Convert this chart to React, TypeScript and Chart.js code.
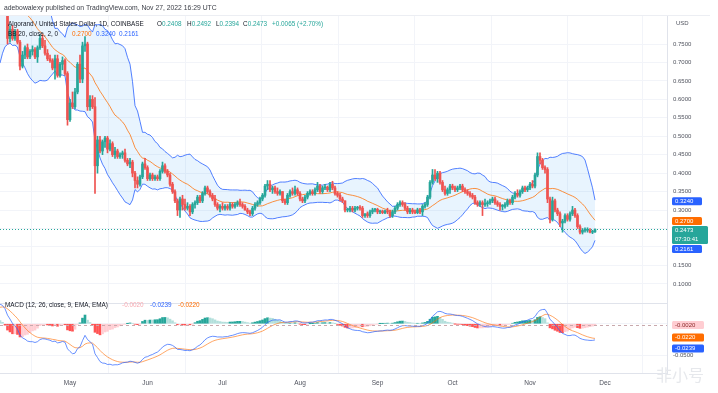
import React, { useEffect, useRef } from "react";
import { Chart, registerables } from "chart.js";
Chart.register(...registerables);

const FONT = '"Liberation Sans", Arial, sans-serif';

// day index 0 = 1 May 2022; first visible candle = 3 Apr 2022
const firstDay = -28;
const xMin = -28;
const xMax = 238.8;

// closes 20 Feb .. 2 Apr 2022 (off-screen, only used for indicator warm-up)
const warmupCloses = [
  0.85, 0.8, 0.82, 0.8, 0.78, 0.82, 0.84, 0.8, 0.86,
  0.88, 0.86, 0.84, 0.78, 0.79, 0.76, 0.73, 0.74, 0.78, 0.74,
  0.72, 0.72, 0.7, 0.7, 0.69, 0.73, 0.74, 0.77, 0.8, 0.78,
  0.78, 0.82, 0.84, 0.87, 0.86, 0.87, 0.9, 0.93, 0.95, 0.92, 0.87,
  0.88, 0.89,
];

const opens = [
  // Apr 3..30
  0.89, 0.9, 0.88, 0.84, 0.765, 0.79, 0.765, 0.785, 0.755, 0.69, 0.72, 0.74, 0.715, 0.73, 0.735, 0.715, 0.74, 0.765, 0.745, 0.725, 0.71, 0.705, 0.685, 0.71, 0.665, 0.695, 0.705, 0.67,
  // May
  0.545, 0.59, 0.58, 0.62, 0.695, 0.655, 0.745, 0.75, 0.58, 0.6, 0.58, 0.42, 0.49, 0.46, 0.485, 0.495, 0.465, 0.48, 0.45, 0.46, 0.445, 0.45, 0.455, 0.435, 0.425, 0.43, 0.4, 0.38, 0.37, 0.39, 0.425,
  // Jun
  0.415, 0.385, 0.395, 0.385, 0.39, 0.385, 0.405, 0.42, 0.405, 0.395, 0.37, 0.35, 0.325, 0.3, 0.33, 0.315, 0.305, 0.31, 0.295, 0.315, 0.32, 0.335, 0.325, 0.345, 0.36, 0.35, 0.34, 0.33, 0.315, 0.305,
  // Jul
  0.31, 0.305, 0.31, 0.305, 0.315, 0.31, 0.315, 0.32, 0.315, 0.31, 0.3, 0.295, 0.29, 0.305, 0.315, 0.32, 0.33, 0.34, 0.365, 0.37, 0.355, 0.36, 0.35, 0.345, 0.35, 0.325, 0.32, 0.34, 0.35, 0.345, 0.355,
  // Aug
  0.345, 0.33, 0.325, 0.335, 0.345, 0.35, 0.345, 0.355, 0.365, 0.35, 0.36, 0.362, 0.355, 0.37, 0.36, 0.345, 0.34, 0.33, 0.325, 0.3, 0.3, 0.305, 0.3, 0.305, 0.307, 0.305, 0.285, 0.29, 0.285, 0.295, 0.3,
  // Sep
  0.302, 0.295, 0.297, 0.293, 0.298, 0.295, 0.285, 0.295, 0.305, 0.315, 0.32, 0.315, 0.305, 0.295, 0.3, 0.295, 0.293, 0.3, 0.295, 0.31, 0.315, 0.335, 0.375, 0.395, 0.385, 0.4, 0.375, 0.355, 0.345, 0.355,
  // Oct
  0.365, 0.36, 0.355, 0.36, 0.365, 0.355, 0.35, 0.345, 0.34, 0.335, 0.32, 0.315, 0.32, 0.315, 0.317, 0.32, 0.325, 0.33, 0.32, 0.315, 0.31, 0.31, 0.315, 0.325, 0.32, 0.335, 0.345, 0.34, 0.35, 0.36, 0.355,
  // Nov 1..27
  0.36, 0.37, 0.365, 0.395, 0.445, 0.435, 0.415, 0.41, 0.33, 0.275, 0.325, 0.3, 0.29, 0.265, 0.27, 0.285, 0.275, 0.29, 0.3, 0.285, 0.255, 0.24, 0.245, 0.245, 0.245, 0.24, 0.2408,
];

const highs = [
  0.91, 0.92, 0.9, 0.845, 0.8, 0.8, 0.79, 0.79, 0.76, 0.73, 0.745, 0.75, 0.735, 0.745, 0.74, 0.745, 0.775, 0.775, 0.76, 0.735, 0.72, 0.71, 0.72, 0.72, 0.7, 0.715, 0.71, 0.675,
  0.6, 0.62, 0.63, 0.7, 0.72, 0.755, 0.77, 0.755, 0.61, 0.61, 0.605, 0.5, 0.5, 0.49, 0.5, 0.5, 0.49, 0.485, 0.47, 0.465, 0.455, 0.46, 0.465, 0.44, 0.44, 0.435, 0.405, 0.39, 0.395, 0.43, 0.44,
  0.42, 0.4, 0.4, 0.395, 0.395, 0.41, 0.43, 0.425, 0.41, 0.4, 0.375, 0.355, 0.33, 0.335, 0.34, 0.33, 0.32, 0.315, 0.32, 0.325, 0.34, 0.34, 0.35, 0.365, 0.365, 0.355, 0.345, 0.34, 0.32, 0.315,
  0.32, 0.315, 0.315, 0.32, 0.32, 0.32, 0.325, 0.33, 0.32, 0.315, 0.305, 0.3, 0.31, 0.32, 0.325, 0.335, 0.345, 0.37, 0.38, 0.38, 0.365, 0.365, 0.36, 0.355, 0.35, 0.33, 0.345, 0.355, 0.36, 0.365, 0.36,
  0.35, 0.335, 0.34, 0.35, 0.355, 0.355, 0.36, 0.375, 0.37, 0.365, 0.37, 0.365, 0.375, 0.378, 0.365, 0.35, 0.345, 0.335, 0.325, 0.305, 0.31, 0.31, 0.31, 0.31, 0.312, 0.31, 0.29, 0.295, 0.3, 0.305, 0.305,
  0.305, 0.3, 0.3, 0.3, 0.305, 0.3, 0.3, 0.31, 0.32, 0.325, 0.325, 0.32, 0.31, 0.305, 0.305, 0.3, 0.305, 0.305, 0.315, 0.32, 0.34, 0.38, 0.41, 0.41, 0.405, 0.405, 0.38, 0.365, 0.36, 0.37,
  0.37, 0.365, 0.365, 0.37, 0.37, 0.36, 0.355, 0.35, 0.345, 0.34, 0.325, 0.325, 0.325, 0.33, 0.325, 0.33, 0.335, 0.335, 0.325, 0.32, 0.315, 0.32, 0.33, 0.33, 0.34, 0.35, 0.355, 0.355, 0.365, 0.365, 0.365,
  0.375, 0.38, 0.4, 0.455, 0.455, 0.44, 0.42, 0.415, 0.335, 0.335, 0.33, 0.305, 0.295, 0.275, 0.29, 0.29, 0.295, 0.31, 0.305, 0.29, 0.26, 0.25, 0.252, 0.252, 0.25, 0.245, 0.2492,
];

const lows = [
  0.87, 0.85, 0.83, 0.75, 0.755, 0.76, 0.76, 0.75, 0.68, 0.685, 0.71, 0.71, 0.71, 0.72, 0.71, 0.7, 0.735, 0.74, 0.72, 0.705, 0.7, 0.68, 0.655, 0.66, 0.66, 0.68, 0.665, 0.53,
  0.54, 0.575, 0.575, 0.615, 0.645, 0.645, 0.73, 0.57, 0.57, 0.575, 0.345, 0.4, 0.455, 0.45, 0.47, 0.455, 0.46, 0.445, 0.44, 0.44, 0.44, 0.44, 0.43, 0.42, 0.415, 0.39, 0.36, 0.36, 0.365, 0.385, 0.41,
  0.38, 0.38, 0.38, 0.38, 0.38, 0.38, 0.4, 0.4, 0.39, 0.365, 0.345, 0.32, 0.285, 0.28, 0.3, 0.3, 0.3, 0.285, 0.29, 0.305, 0.315, 0.32, 0.32, 0.34, 0.345, 0.335, 0.325, 0.31, 0.3, 0.295,
  0.3, 0.3, 0.3, 0.3, 0.305, 0.305, 0.31, 0.31, 0.305, 0.3, 0.29, 0.285, 0.285, 0.3, 0.31, 0.315, 0.325, 0.335, 0.355, 0.35, 0.345, 0.345, 0.34, 0.34, 0.32, 0.315, 0.315, 0.335, 0.34, 0.34, 0.34,
  0.325, 0.32, 0.32, 0.33, 0.34, 0.34, 0.34, 0.35, 0.345, 0.345, 0.355, 0.35, 0.35, 0.355, 0.34, 0.335, 0.325, 0.32, 0.295, 0.295, 0.295, 0.295, 0.295, 0.3, 0.3, 0.28, 0.28, 0.28, 0.28, 0.29, 0.295,
  0.29, 0.29, 0.29, 0.29, 0.29, 0.28, 0.28, 0.29, 0.3, 0.31, 0.31, 0.3, 0.29, 0.29, 0.29, 0.29, 0.29, 0.29, 0.285, 0.305, 0.31, 0.33, 0.37, 0.38, 0.375, 0.37, 0.35, 0.34, 0.34, 0.345,
  0.355, 0.35, 0.35, 0.355, 0.35, 0.345, 0.34, 0.335, 0.33, 0.315, 0.31, 0.31, 0.285, 0.31, 0.31, 0.315, 0.32, 0.315, 0.31, 0.3, 0.3, 0.305, 0.31, 0.315, 0.315, 0.33, 0.335, 0.335, 0.345, 0.35, 0.35,
  0.355, 0.36, 0.36, 0.39, 0.425, 0.41, 0.4, 0.32, 0.265, 0.27, 0.295, 0.285, 0.255, 0.24, 0.265, 0.27, 0.27, 0.285, 0.28, 0.25, 0.235, 0.235, 0.24, 0.24, 0.238, 0.236, 0.2394,
];

const closes = [
  0.9, 0.88, 0.84, 0.765, 0.79, 0.765, 0.785, 0.755, 0.69, 0.72, 0.74, 0.715, 0.73, 0.735, 0.715, 0.74, 0.765, 0.745, 0.725, 0.71, 0.705, 0.685, 0.71, 0.665, 0.695, 0.705, 0.67, 0.545,
  0.59, 0.58, 0.62, 0.695, 0.655, 0.745, 0.75, 0.58, 0.6, 0.58, 0.42, 0.49, 0.46, 0.485, 0.495, 0.465, 0.48, 0.45, 0.46, 0.445, 0.45, 0.455, 0.435, 0.425, 0.43, 0.4, 0.38, 0.37, 0.39, 0.425, 0.415,
  0.385, 0.395, 0.385, 0.39, 0.385, 0.405, 0.42, 0.405, 0.395, 0.37, 0.35, 0.325, 0.3, 0.33, 0.315, 0.305, 0.31, 0.295, 0.315, 0.32, 0.335, 0.325, 0.345, 0.36, 0.35, 0.34, 0.33, 0.315, 0.305, 0.31,
  0.305, 0.31, 0.305, 0.315, 0.31, 0.315, 0.32, 0.315, 0.31, 0.3, 0.295, 0.29, 0.305, 0.315, 0.32, 0.33, 0.34, 0.365, 0.37, 0.355, 0.36, 0.35, 0.345, 0.35, 0.325, 0.32, 0.34, 0.35, 0.345, 0.355, 0.345,
  0.33, 0.325, 0.335, 0.345, 0.35, 0.345, 0.355, 0.365, 0.35, 0.36, 0.362, 0.355, 0.37, 0.36, 0.345, 0.34, 0.33, 0.325, 0.3, 0.3, 0.305, 0.3, 0.305, 0.307, 0.305, 0.285, 0.29, 0.285, 0.295, 0.3, 0.302,
  0.295, 0.297, 0.293, 0.298, 0.295, 0.285, 0.295, 0.305, 0.315, 0.32, 0.315, 0.305, 0.295, 0.3, 0.295, 0.293, 0.3, 0.295, 0.31, 0.315, 0.335, 0.375, 0.395, 0.385, 0.4, 0.375, 0.355, 0.345, 0.355, 0.365,
  0.36, 0.355, 0.36, 0.365, 0.355, 0.35, 0.345, 0.34, 0.335, 0.32, 0.315, 0.32, 0.315, 0.317, 0.32, 0.325, 0.33, 0.32, 0.315, 0.31, 0.31, 0.315, 0.325, 0.32, 0.335, 0.345, 0.34, 0.35, 0.36, 0.355, 0.36,
  0.37, 0.365, 0.395, 0.445, 0.435, 0.415, 0.41, 0.33, 0.275, 0.325, 0.3, 0.29, 0.265, 0.27, 0.285, 0.275, 0.29, 0.3, 0.285, 0.255, 0.24, 0.245, 0.245, 0.245, 0.24, 0.2408, 0.2473,
];

const monthTickDays = [0, 31, 61, 92, 123, 153, 184, 214];
const monthTickLabels = ["May", "Jun", "Jul", "Aug", "Sep", "Oct", "Nov", "Dec"];
const priceTicks = [0.1, 0.15, 0.2, 0.25, 0.3, 0.35, 0.4, 0.45, 0.5, 0.55, 0.6, 0.65, 0.7, 0.75];
const macdTicks = [0, -0.05];

const lastClose = 0.2473;
const bbBasisLast = 0.27;
const bbUpperLast = 0.324;
const bbLowerLast = 0.2161;
const histLast = -0.002;
const macdLast = -0.0239;
const signalLast = -0.022;

const UP = "#26a69a";
const DOWN = "#ef5350";
const BLUE = "#2962ff";
const ORANGE = "#ff6d00";
const GRID = "#f2f4f9";
const AXIS_TEXT = "#50535e";

function ema(src: number[], n: number): number[] {
  const k = 2 / (n + 1);
  const out: number[] = [];
  let e = src[0];
  src.forEach((v, i) => {
    e = i === 0 ? v : v * k + e * (1 - k);
    out.push(e);
  });
  return out;
}

function drawBox(ctx: CanvasRenderingContext2D, x: number, top: number, w: number, h: number, fill: string, color: string, lines: string[]) {
  ctx.save();
  ctx.fillStyle = fill;
  ctx.beginPath();
  (ctx as any).roundRect ? (ctx as any).roundRect(x, top, w, h, 1.5) : ctx.rect(x, top, w, h);
  ctx.fill();
  ctx.fillStyle = color;
  ctx.font = `6px ${FONT}`;
  ctx.textBaseline = "middle";
  ctx.textAlign = "left";
  lines.forEach((t, i) => ctx.fillText(t, x + 3, top + 4 + i * 9));
  ctx.restore();
}

const noPad = (s: any) => {
  s.paddingTop = 0;
  s.paddingBottom = 0;
  s.paddingLeft = 0;
  s.paddingRight = 0;
};

export default function App() {
  const mainRef = useRef<HTMLCanvasElement>(null);
  const macdRef = useRef<HTMLCanvasElement>(null);

  useEffect(() => {
    const days = closes.map((_, i) => firstDay + i);
    const W = warmupCloses.length;
    const allCloses = [...warmupCloses, ...closes];

    const upper: { x: number; y: number }[] = [];
    const lower: { x: number; y: number }[] = [];
    const basis: { x: number; y: number }[] = [];
    closes.forEach((_, i) => {
      const j = W + i;
      const win = allCloses.slice(j - 19, j + 1);
      const m = win.reduce((a, b) => a + b, 0) / win.length;
      const sd = Math.sqrt(win.reduce((a, b) => a + (b - m) * (b - m), 0) / win.length);
      basis.push({ x: days[i], y: m });
      upper.push({ x: days[i], y: m + 2 * sd });
      lower.push({ x: days[i], y: m - 2 * sd });
    });

    const e12 = ema(allCloses, 12);
    const e26 = ema(allCloses, 26);
    const macdAll = e12.map((v, i) => v - e26[i]);
    const sigAll = ema(macdAll, 9);
    const histAll = macdAll.map((v, i) => v - sigAll[i]);
    const histColors: string[] = [];
    const histData = closes.map((_, i) => {
      const h = histAll[W + i];
      const p = histAll[W + i - 1];
      histColors.push(h >= 0 ? (h > p ? "#26a69a" : "#b2dfdb") : h < p ? "#ff5252" : "#ffcdd2");
      return { x: days[i], y: h };
    });
    const macdData = closes.map((_, i) => ({ x: days[i], y: macdAll[W + i] }));
    const sigData = closes.map((_, i) => ({ x: days[i], y: sigAll[W + i] }));

    const candleColors = closes.map((c, i) => (c >= opens[i] ? UP : DOWN));

    const mainOverlay = {
      id: "mainOverlay",
      afterDatasetsDraw(chart: any) {
        const { ctx, chartArea: a, scales } = chart;
        const py = Math.round(scales.y.getPixelForValue(lastClose)) + 0.5;
        ctx.save();
        ctx.strokeStyle = UP;
        ctx.lineWidth = 1;
        ctx.setLineDash([1, 2]);
        ctx.beginPath();
        ctx.moveTo(a.left, py);
        ctx.lineTo(a.right, py);
        ctx.stroke();
        ctx.restore();
      },
      afterDraw(chart: any) {
        const { ctx, chartArea: a, scales } = chart;
        const y = scales.y;
        const bx = a.right + 5;
        ctx.save();
        ctx.fillStyle = AXIS_TEXT;
        ctx.font = `6px ${FONT}`;
        ctx.textBaseline = "middle";
        ctx.fillText("USD", a.right + 9, 8);
        ctx.restore();
        // labels stack downward when they would overlap
        const orTop = y.getPixelForValue(bbBasisLast) - 4;
        const tealTop = Math.max(y.getPixelForValue(lastClose) - 4, orTop + 9);
        const lowTop = Math.max(y.getPixelForValue(bbLowerLast) - 4, tealTop + 19);
        drawBox(ctx, bx, y.getPixelForValue(bbUpperLast) - 4, 30, 8, BLUE, "#fff", [bbUpperLast.toFixed(4)]);
        drawBox(ctx, bx, orTop, 30, 8, ORANGE, "#fff", [bbBasisLast.toFixed(4)]);
        drawBox(ctx, bx, tealTop, 36, 18, UP, "#fff", [lastClose.toFixed(4), "07:30:41"]);
        drawBox(ctx, bx, lowTop, 30, 8, BLUE, "#fff", [bbLowerLast.toFixed(4)]);
      },
    };

    const macdOverlay = {
      id: "macdOverlay",
      afterDatasetsDraw(chart: any) {
        const { ctx, chartArea: a, scales } = chart;
        const py = Math.round(scales.y.getPixelForValue(histLast)) + 0.5;
        ctx.save();
        ctx.strokeStyle = "#c8a9ad";
        ctx.lineWidth = 1;
        ctx.setLineDash([3, 3]);
        ctx.beginPath();
        ctx.moveTo(a.left, py);
        ctx.lineTo(a.right, py);
        ctx.stroke();
        ctx.restore();
      },
      afterDraw(chart: any) {
        const { ctx, chartArea: a, scales } = chart;
        const y = scales.y;
        const bx = a.right + 5;
        const pPink = y.getPixelForValue(histLast);
        const pOr = y.getPixelForValue(signalLast);
        drawBox(ctx, bx, pPink - 4, 32, 8, "#ffcdd2", "#8b2a2a", [histLast.toFixed(4)]);
        drawBox(ctx, bx, pOr - 4, 32, 8, ORANGE, "#fff", [signalLast.toFixed(4)]);
        drawBox(ctx, bx, pOr + 7, 32, 8, BLUE, "#fff", [macdLast.toFixed(4)]);
      },
    };

    const xCommon = {
      type: "linear" as const,
      min: xMin,
      max: xMax,
      offset: false,
      afterBuildTicks: (s: any) => {
        s.ticks = monthTickDays.map((v) => ({ value: v }));
      },
      grid: { color: GRID, drawTicks: false, lineWidth: 1 },
    };

    const main = new Chart(mainRef.current!, {
      type: "bar",
      data: {
        datasets: [
          {
            type: "bar",
            data: days.map((d, i) => ({ x: d, y: [opens[i], closes[i]] })) as any,
            backgroundColor: candleColors,
            barThickness: 2,
            minBarLength: 1,
            grouped: false,
            borderWidth: 0,
            order: 0,
          },
          {
            type: "bar",
            data: days.map((d, i) => ({ x: d, y: [lows[i], highs[i]] })) as any,
            backgroundColor: candleColors,
            barThickness: 1,
            grouped: false,
            borderWidth: 0,
            order: 1,
          },
          {
            type: "line",
            data: basis,
            borderColor: "rgba(255,109,0,0.75)",
            borderWidth: 1,
            pointRadius: 0,
            pointHoverRadius: 0,
            tension: 0,
            fill: false,
            order: 2,
          },
          {
            type: "line",
            data: upper,
            borderColor: "rgba(41,98,255,0.8)",
            borderWidth: 1,
            pointRadius: 0,
            pointHoverRadius: 0,
            tension: 0,
            fill: "+1",
            backgroundColor: "rgba(33,150,243,0.1)",
            order: 3,
          },
          {
            type: "line",
            data: lower,
            borderColor: "rgba(41,98,255,0.8)",
            borderWidth: 1,
            pointRadius: 0,
            pointHoverRadius: 0,
            tension: 0,
            fill: false,
            order: 4,
          },
        ] as any,
      },
      options: {
        animation: false,
        responsive: false,
        events: [],
        layout: { padding: 0, autoPadding: false },
        plugins: {
          legend: { display: false },
          tooltip: { enabled: false },
          filler: { drawTime: "beforeDatasetsDraw" },
        } as any,
        scales: {
          x: {
            ...xCommon,
            afterFit: (s: any) => {
              s.height = 0;
              noPad(s);
            },
            ticks: { display: false },
            border: { display: false },
          },
          y: {
            position: "right",
            min: 0.0481,
            max: 0.8286,
            afterFit: (s: any) => {
              s.width = 43;
              noPad(s);
            },
            afterBuildTicks: (s: any) => {
              s.ticks = priceTicks.map((v) => ({ value: v }));
            },
            ticks: {
              callback: (v: any) => Number(v).toFixed(4),
              font: { family: FONT, size: 6 },
              color: AXIS_TEXT,
              padding: 6,
            },
            grid: { color: GRID, drawTicks: false },
            border: { display: true, color: "#e0e3eb" },
          },
        } as any,
      },
      plugins: [mainOverlay],
    });

    const mc = new Chart(macdRef.current!, {
      type: "bar",
      data: {
        datasets: [
          {
            type: "line",
            data: macdData,
            borderColor: "rgba(41,98,255,0.7)",
            borderWidth: 1,
            pointRadius: 0,
            pointHoverRadius: 0,
            tension: 0,
            order: 0,
          },
          {
            type: "line",
            data: sigData,
            borderColor: "rgba(255,109,0,0.6)",
            borderWidth: 1,
            pointRadius: 0,
            pointHoverRadius: 0,
            tension: 0,
            order: 1,
          },
          {
            type: "bar",
            data: histData,
            backgroundColor: histColors,
            barThickness: 2,
            grouped: false,
            borderWidth: 0,
            order: 2,
          },
        ] as any,
      },
      options: {
        animation: false,
        responsive: false,
        events: [],
        layout: { padding: 0, autoPadding: false },
        plugins: { legend: { display: false }, tooltip: { enabled: false } },
        scales: {
          x: {
            ...xCommon,
            afterFit: (s: any) => {
              s.height = 20;
              noPad(s);
            },
            ticks: {
              autoSkip: false,
              maxRotation: 0,
              padding: 6,
              font: { family: FONT, size: 6.5 },
              color: AXIS_TEXT,
              callback: (v: any) => {
                const k = monthTickDays.indexOf(Number(v));
                return k >= 0 ? monthTickLabels[k] : "";
              },
            },
            border: { display: true, color: "#e0e3eb" },
          },
          y: {
            position: "right",
            min: -0.0788,
            max: 0.0332,
            afterFit: (s: any) => {
              s.width = 43;
              noPad(s);
            },
            afterBuildTicks: (s: any) => {
              s.ticks = macdTicks.map((v) => ({ value: v }));
            },
            ticks: {
              callback: (v: any) => Number(v).toFixed(4),
              font: { family: FONT, size: 6 },
              color: AXIS_TEXT,
              padding: 6,
            },
            grid: { color: GRID, drawTicks: false },
            border: { display: true, color: "#e0e3eb" },
          },
        } as any,
      },
      plugins: [macdOverlay],
    });

    return () => {
      main.destroy();
      mc.destroy();
    };
  }, []);

  const txt: React.CSSProperties = {
    position: "absolute",
    fontFamily: FONT,
    fontSize: 6.4,
    lineHeight: "8px",
    whiteSpace: "pre",
    color: "#131722",
  };

  return (
    <div style={{ position: "fixed", left: 0, top: 0, width: 718, height: 393, background: "#fff", overflow: "hidden" }}>
      <canvas ref={mainRef} width={710} height={288} style={{ position: "absolute", left: 0, top: 15 }} />
      <canvas ref={macdRef} width={710} height={90} style={{ position: "absolute", left: 0, top: 303 }} />
      <div style={{ position: "absolute", left: 0, top: 15, width: 710, height: 0, borderTop: "1px solid #eceef3" }} />
      <div style={{ position: "absolute", left: 0, top: 303, width: 667, height: 0, borderTop: "1px solid #e0e3eb" }} />
      <div style={{ ...txt, left: 4, top: 4, color: "#3a3d46", fontSize: 6.8 }}>adebowalexy published on TradingView.com, Nov 27, 2022 16:29 UTC</div>
      <div style={{ ...txt, left: 8, top: 20 }}>Algorand / United States Dollar, 1D, COINBASE</div>
      <div style={{ ...txt, left: 157, top: 20 }}>O<span style={{ color: UP }}>0.2408</span></div>
      <div style={{ ...txt, left: 187, top: 20 }}>H<span style={{ color: UP }}>0.2492</span></div>
      <div style={{ ...txt, left: 216, top: 20 }}>L<span style={{ color: UP }}>0.2394</span></div>
      <div style={{ ...txt, left: 243, top: 20 }}>C<span style={{ color: UP }}>0.2473</span></div>
      <div style={{ ...txt, left: 272, top: 20, color: UP }}>+0.0065 (+2.70%)</div>
      <div style={{ ...txt, left: 8, top: 29.5 }}>BB 20, close, 2, 0</div>
      <div style={{ ...txt, left: 72, top: 29.5, color: ORANGE }}>0.2700</div>
      <div style={{ ...txt, left: 96, top: 29.5, color: BLUE }}>0.3240</div>
      <div style={{ ...txt, left: 119, top: 29.5, color: BLUE }}>0.2161</div>
      <div style={{ ...txt, left: 5, top: 301 }}>MACD (12, 26, close, 9, EMA, EMA)</div>
      <div style={{ ...txt, left: 122, top: 301, color: "#f7a8b0" }}>-0.0020</div>
      <div style={{ ...txt, left: 150, top: 301, color: BLUE }}>-0.0239</div>
      <div style={{ ...txt, left: 178, top: 301, color: ORANGE }}>-0.0220</div>
      <div style={{ position: "absolute", left: 656, top: 362, fontFamily: '"Noto Sans CJK SC", sans-serif', fontSize: 16, color: "#e6e8ec", whiteSpace: "pre" }}>非小号</div>
    </div>
  );
}
